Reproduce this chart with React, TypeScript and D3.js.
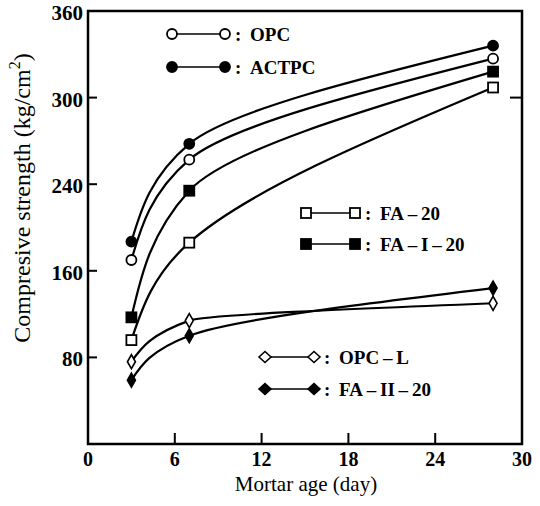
import React, { useEffect, useRef } from 'react';
import * as d3 from 'd3';

// mortar age (day) and compresive strength (kg/cm2)
const ages = [3, 7, 28];
const opc = [170, 257, 327];
const actpc = [187, 268, 336];
const fa20 = [96, 186, 307];
const fai20 = [117, 234, 318];
const opcL = [76, 114, 130];
const faii20 = [59, 100, 144];

const seriesNames = ['OPC', 'ACTPC', 'FA–20', 'FA–I–20', 'OPC–L', 'FA–II–20'];
const xTicks = [0, 6, 12, 18, 24, 30];
const yTicks = [80, 160, 240, 300, 360];

const W = 540;
const H = 506;
const left = 88, right = 522, top = 11, bottom = 444;
const FONT = "'Liberation Serif', 'Times New Roman', serif";

// marker style per series, same order as seriesNames
const shapes = ['circle', 'circle', 'square', 'square', 'diamond', 'diamond'];
const filled = [false, true, false, true, false, true];
// legend placement: [x of first marker, x of second marker, y]
const legendPos = [
  [172, 225, 34],
  [172, 225, 67],
  [306, 355, 213],
  [306, 355, 244],
  [265, 314, 357],
  [265, 314, 389],
];

function App() {
  const ref = useRef<SVGSVGElement>(null);

  useEffect(() => {
    const svg = d3.select(ref.current);
    svg.selectAll('*').remove();

    const values = [opc, actpc, fa20, fai20, opcL, faii20];

    const x = d3.scaleLinear().domain([0, 30]).range([left, right]);
    // the figure's y labels are spaced evenly although the values are not
    const yDomain = [0, ...yTicks];
    const step = (bottom - top) / yTicks.length;
    const y = d3.scaleLinear()
      .domain(yDomain)
      .range(yDomain.map((_, i) => bottom - i * step));

    const g = svg.append('g');

    // frame
    g.append('rect')
      .attr('x', left).attr('y', top)
      .attr('width', right - left).attr('height', bottom - top)
      .attr('fill', 'none').attr('stroke', '#000').attr('stroke-width', 2.5);

    // y ticks (inward) and labels
    g.selectAll('.ytick')
      .data(yTicks.filter(t => t !== 360))
      .enter().append('line')
      .attr('x1', left).attr('x2', left + 9)
      .attr('y1', d => y(d)).attr('y2', d => y(d))
      .attr('stroke', '#000').attr('stroke-width', 2);

    g.append('line')
      .attr('x1', right - 12).attr('x2', right)
      .attr('y1', y(300)).attr('y2', y(300))
      .attr('stroke', '#000').attr('stroke-width', 2);

    g.selectAll('.ylab')
      .data(yTicks)
      .enter().append('text')
      .attr('x', left - 5)
      .attr('y', d => y(d) + 9)
      .attr('text-anchor', 'end')
      .attr('font-family', FONT)
      .attr('font-size', 21)
      .attr('font-weight', 'bold')
      .text(d => d);

    // x ticks (inward) and labels
    g.selectAll('.xtick')
      .data(xTicks.filter(t => t > 0 && t < 30))
      .enter().append('line')
      .attr('x1', d => x(d)).attr('x2', d => x(d))
      .attr('y1', bottom).attr('y2', bottom - 11)
      .attr('stroke', '#000').attr('stroke-width', 2);

    g.selectAll('.xlab')
      .data(xTicks)
      .enter().append('text')
      .attr('x', d => x(d))
      .attr('y', bottom + 22)
      .attr('text-anchor', 'middle')
      .attr('font-family', FONT)
      .attr('font-size', 20)
      .attr('font-weight', 'bold')
      .text(d => d);

    // axis titles
    g.append('text')
      .attr('x', 306)
      .attr('y', 491)
      .attr('text-anchor', 'middle')
      .attr('font-family', FONT)
      .attr('font-size', 21)
      .text('Mortar age (day)');

    const yt = g.append('text')
      .attr('transform', `translate(30, 198) rotate(-90)`)
      .attr('text-anchor', 'middle')
      .attr('font-family', FONT)
      .attr('font-size', 24);
    yt.append('tspan').text('Compresive strength (kg/cm');
    yt.append('tspan').attr('dy', -10).attr('font-size', 16).text('2');
    yt.append('tspan').attr('dy', 10).text(')');

    const drawMarker = (sel: any, shape: string, fill: boolean, cx: number, cy: number, big: boolean) => {
      const col = fill ? '#000' : '#fff';
      if (shape === 'circle') {
        sel.append('circle').attr('cx', cx).attr('cy', cy).attr('r', 5)
          .attr('fill', col).attr('stroke', '#000').attr('stroke-width', 1.8);
      } else if (shape === 'square') {
        sel.append('rect').attr('x', cx - 5).attr('y', cy - 5).attr('width', 10).attr('height', 10)
          .attr('fill', col).attr('stroke', '#000').attr('stroke-width', 1.8);
      } else {
        const w = big ? 6 : 4;
        const h = big ? 5.5 : 7;
        sel.append('path')
          .attr('d', `M${cx},${cy - h}L${cx + w},${cy}L${cx},${cy + h}L${cx - w},${cy}Z`)
          .attr('fill', col).attr('stroke', '#000').attr('stroke-width', 1.6);
      }
    };

    // the strength rises steadily, so a curve monotone in y gives the smooth fitted look
    const line = d3.line<number>()
      .x((_, i) => x(ages[i]))
      .y(d => y(d))
      .curve(d3.curveMonotoneY);

    values.forEach(vals => {
      g.append('path')
        .attr('d', line(vals))
        .attr('fill', 'none')
        .attr('stroke', '#000')
        .attr('stroke-width', 2.2);
    });

    values.forEach((vals, s) => {
      vals.forEach((v, i) => drawMarker(g, shapes[s], filled[s], x(ages[i]), y(v), false));
    });

    // legend
    seriesNames.forEach((name, s) => {
      const [x1, x2, ly] = legendPos[s];
      g.append('line')
        .attr('x1', x1).attr('x2', x2).attr('y1', ly).attr('y2', ly)
        .attr('stroke', '#000').attr('stroke-width', 1.5);
      drawMarker(g, shapes[s], filled[s], x1, ly, true);
      drawMarker(g, shapes[s], filled[s], x2, ly, true);
      g.append('text')
        .attr('x', x2 + 10)
        .attr('y', ly + 7)
        .attr('font-family', FONT)
        .attr('font-size', 19)
        .attr('font-weight', 'bold')
        .text(':');
      g.append('text')
        .attr('x', x2 + 25)
        .attr('y', ly + 7)
        .attr('font-family', FONT)
        .attr('font-size', 19)
        .attr('font-weight', 'bold')
        .text(name.replace(/–/g, '\u2009–\u2009'));
    });
  }, []);

  return (
    <div style={{ position: 'absolute', left: 0, top: 0 }}>
      <svg ref={ref} width={W} height={H} style={{ display: 'block', background: '#fff' }} />
    </div>
  );
}

export default App;
